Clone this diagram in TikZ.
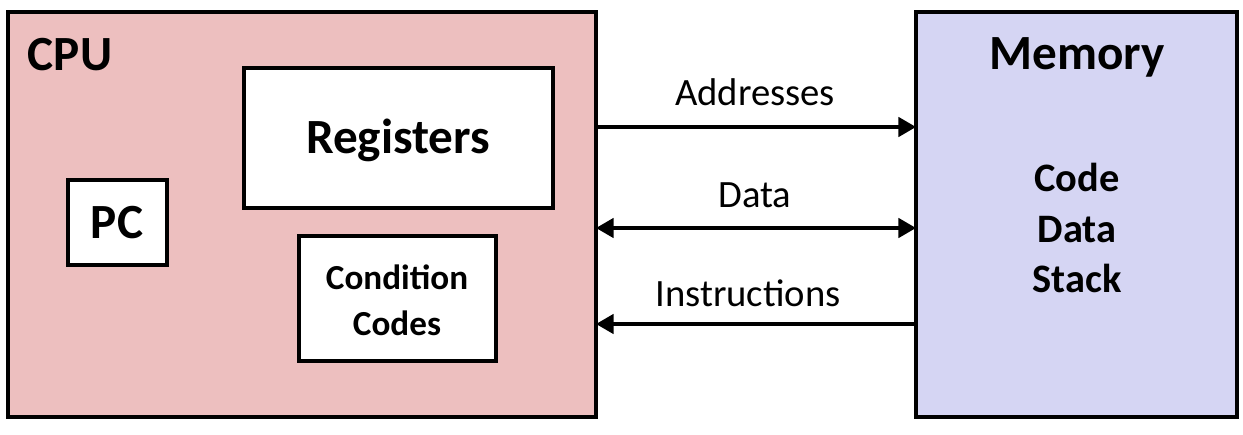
\documentclass[tikz,border=0pt]{standalone}
\usepackage{fontspec}
\setmainfont{Carlito}
\usetikzlibrary{arrows.meta}
\definecolor{cpupink}{HTML}{EDBFBF}
\definecolor{memblue}{HTML}{D5D5F3}
\tikzset{
  blk/.style={draw=black,line width=2.2pt,fill=white},
  bus/.style={line width=2pt,-{Triangle[length=10pt,width=11pt]}},
  lbl/.style={font=\fontsize{22}{24}\selectfont},
  bold/.style={font=\bfseries\fontsize{#1}{#1}\selectfont}
}
\begin{document}
\begin{tikzpicture}[x=0.02cm,y=-0.02cm]
\useasboundingbox (0,0) rectangle (1243,435);
% boxes
\draw[blk,fill=cpupink] (8,12) rectangle (596,417);
\draw[blk,fill=memblue] (916,12) rectangle (1237,417);
\draw[blk] (244,68) rectangle (553,208);
\draw[blk] (68,180) rectangle (167,265);
\draw[blk] (299,236) rectangle (496,361);
\node[bold=28] (cpu) at (70,55) {CPU};
\node[bold=28] (mem) at (1077,57) {Memory};
\node[bold=28] (reg) at (398,140) {Registers};
\node[bold=28] (pc) at (117,223) {PC};
\node[bold=20,align=center] (cc) at (397,300) {Condition\\[6pt]Codes};
\node[bold=23,align=center] (seg) at (1077,228) {Code\\[6pt]Data\\[6pt]Stack};
% buses
\coordinate (a1) at (596,127); \coordinate (a2) at (916,127);
\coordinate (d1) at (596,228); \coordinate (d2) at (916,228);
\coordinate (i1) at (596,324); \coordinate (i2) at (916,324);
\draw[bus] (a1) -- (a2);
\draw[bus,{Triangle[length=10pt,width=11pt]}-{Triangle[length=10pt,width=11pt]}] (d1) -- (d2);
\draw[bus] (i2) -- (i1);
\node[lbl] (addr) at (755,92) {Addresses};
\node[lbl] (data) at (755,195) {Data};
\node[lbl] (ins) at (748,293) {Instructions};
\end{tikzpicture}
\end{document}
